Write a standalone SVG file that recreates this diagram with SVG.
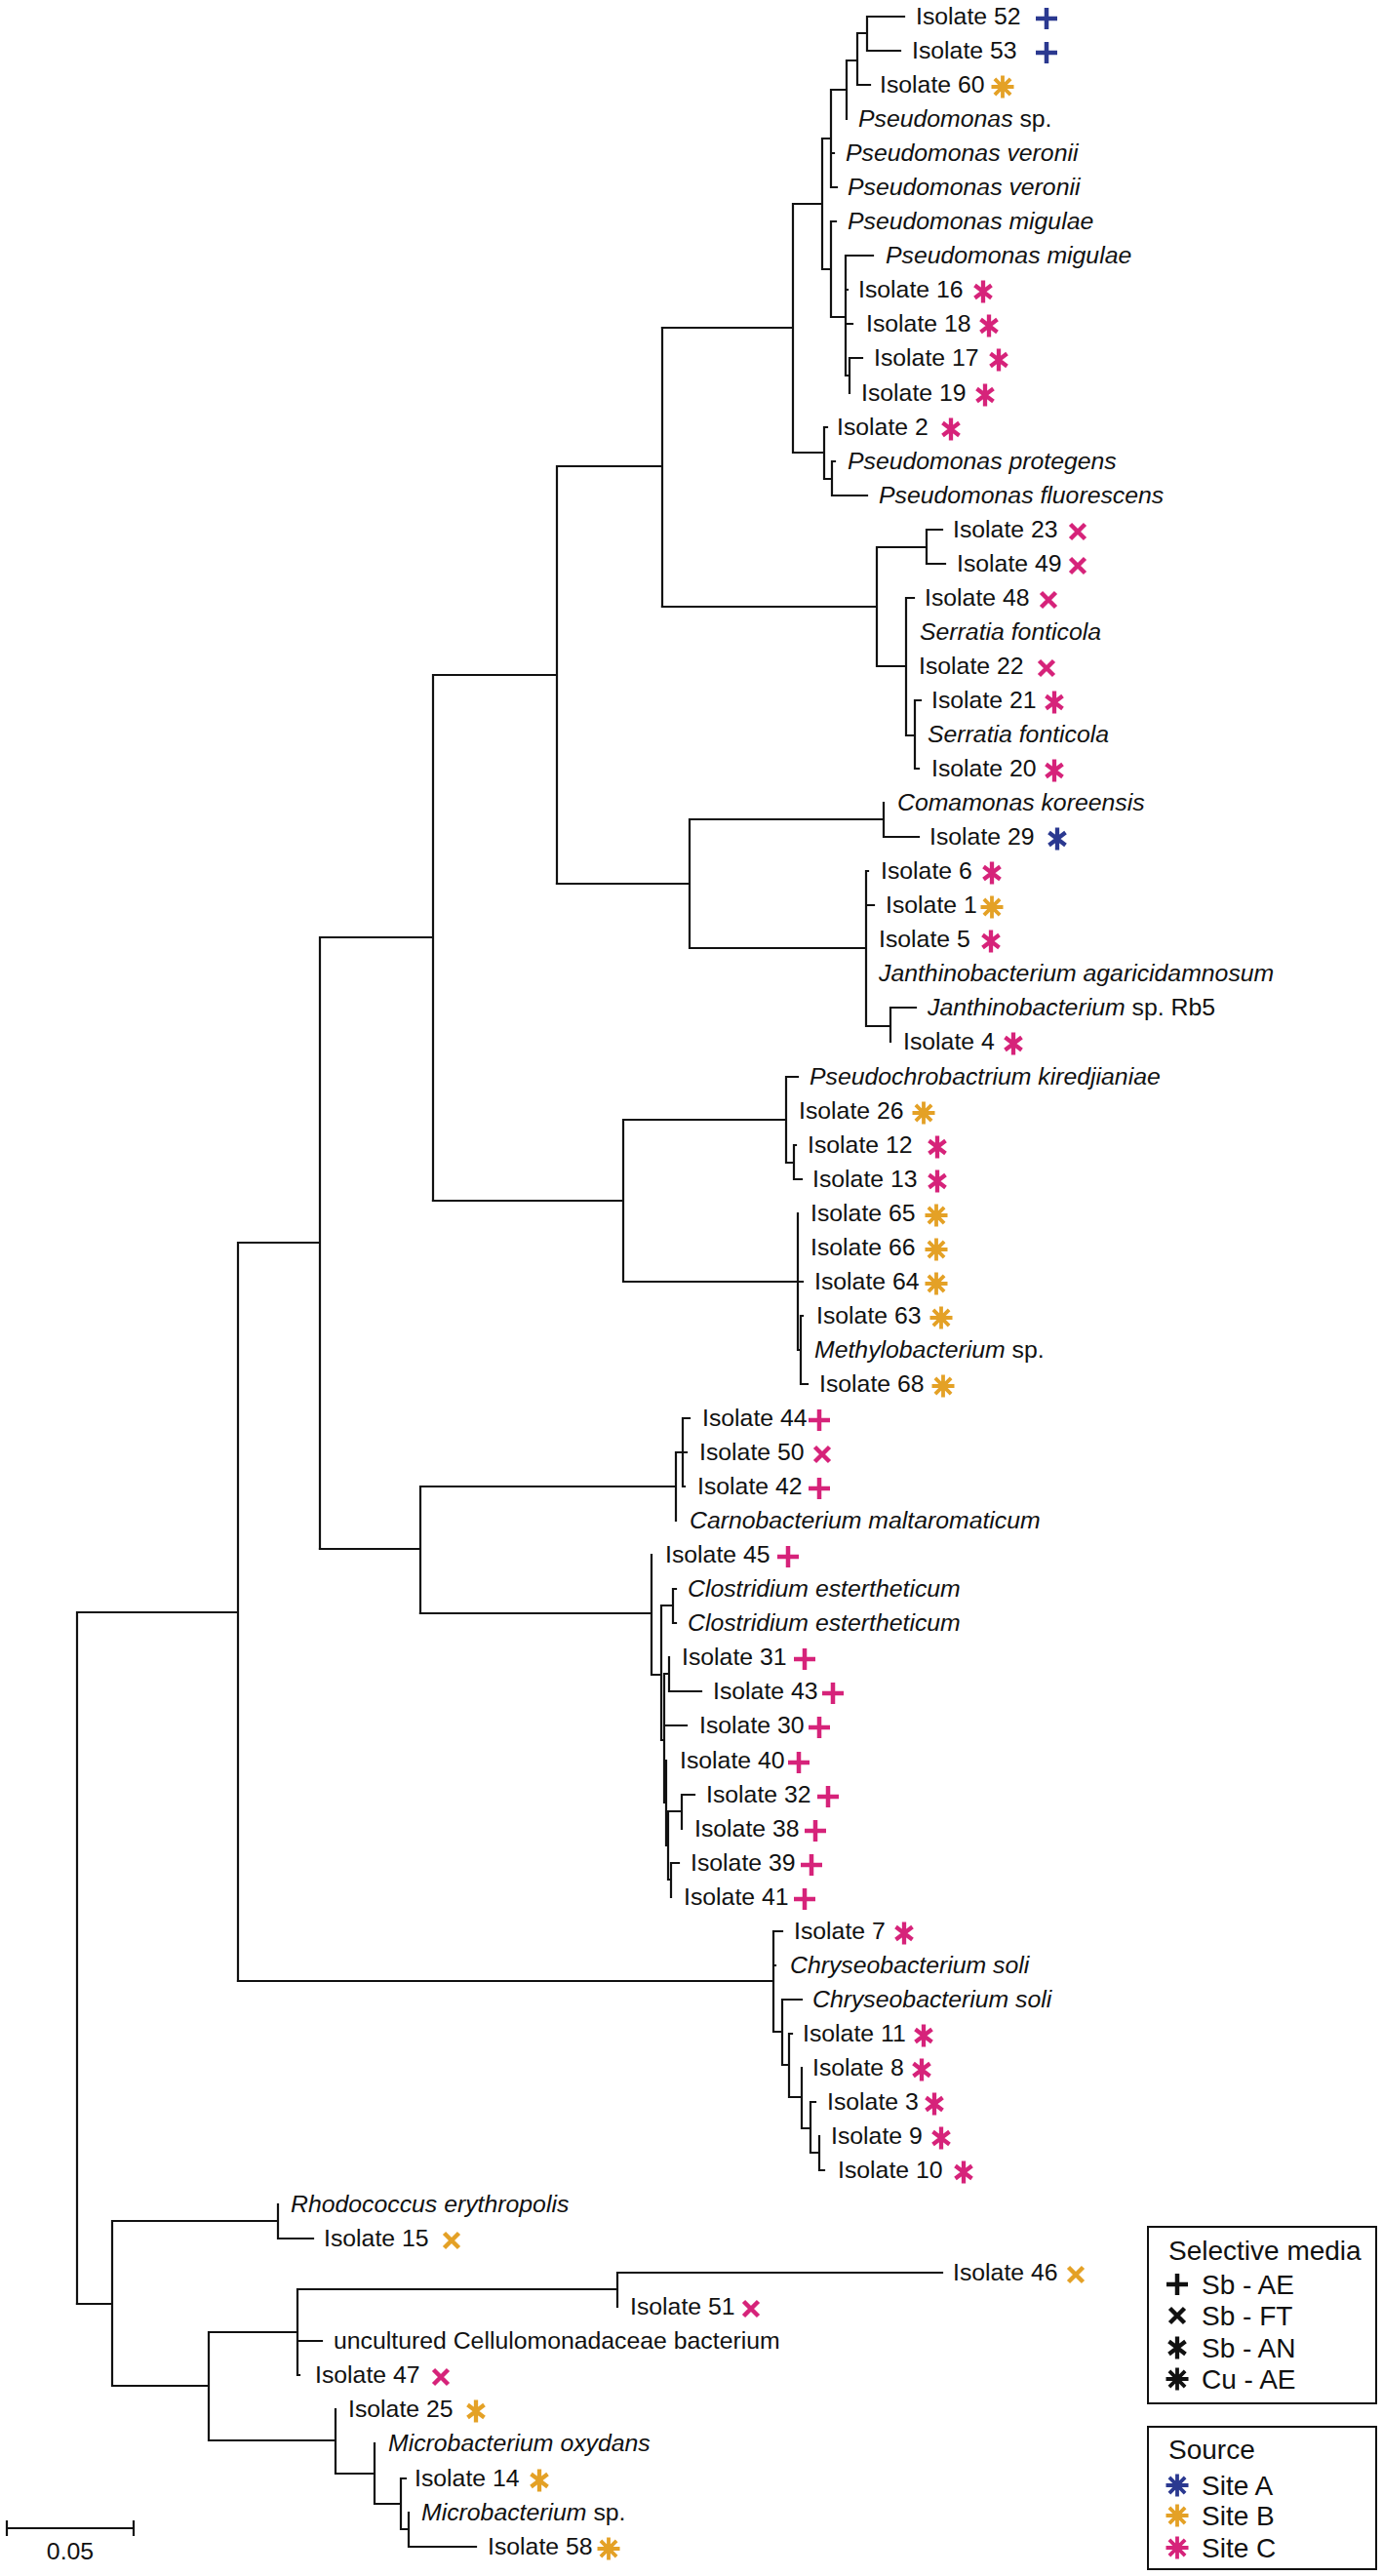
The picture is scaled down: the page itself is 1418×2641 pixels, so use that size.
<svg xmlns="http://www.w3.org/2000/svg" xmlns:xlink="http://www.w3.org/1999/xlink" width="1418" height="2641" viewBox="0 0 1418 2641">
<style>
text{font-family:"Liberation Sans",Arial,sans-serif;font-size:24.8px;fill:#111}
.i{font-style:italic}
.lg{font-size:28px}
.br{fill:none;stroke:#111;stroke-width:2.2;stroke-linecap:square}
.A{color:#2b3990}.B{color:#e4a126}.C{color:#d6237a}.K{color:#111}
</style>
<defs>
<g id="ae"><path d="M-11,0H11M0,-11V11" stroke="currentColor" stroke-width="4.5" fill="none"/></g>
<g id="ft"><path d="M-7.5,-7.5L7.5,7.5M7.5,-7.5L-7.5,7.5" stroke="currentColor" stroke-width="4.5" fill="none"/></g>
<g id="an"><path d="M0,-11.5V11.5M-8.5,-6.5L8.5,6.5M8.5,-6.5L-8.5,6.5" stroke="currentColor" stroke-width="4.3" fill="none"/></g>
<g id="cu"><path d="M0,-11.5V11.5M-11.5,0H11.5M-8.1,-8.1L8.1,8.1M8.1,-8.1L-8.1,8.1" stroke="currentColor" stroke-width="3.8" fill="none"/></g>
</defs>
<rect width="1418" height="2641" fill="#fff"/>
<g id="branches" class="br">
<path d="M79,1653V2362M79,1653H244M244,1274V2031M244,1274H328M328,961V1588M328,961H444M444,692V1231M444,692H571M571,478V906M571,478H679M679,336V622"/>
<path d="M679,336H813M813,209V464M813,209H843M843,142V276M843,142H852M852,92V192M852,92H868M868,62V122M868,62H879M879,34V87M879,34H889M889,17V52M889,17H927M889,52H923M879,87H892M852,157H855M852,192H858M843,276H852M852,227V325M852,227H857M852,325H867M867,262V385M867,262H895M867,297H869M867,332H874M867,385H871M871,367V403M871,367H884M813,464H845M845,438V491M845,438H848M845,491H853M853,473V508M853,473H856M853,508H889"/>
<path d="M679,622H899M899,561V683M899,561H950M950,543V578M950,543H966M950,578H969M899,683H929M929,613V754M929,613H937M929,754H938M938,718V788M938,718H944M938,788H942"/>
<path d="M571,906H707M707,840V972M707,840H906M906,823V858M906,858H942M707,972H888M888,893V1052M888,893H890M888,928H896M888,1052H913M913,1033V1068M913,1033H939"/>
<path d="M444,1231H639M639,1148V1314M639,1148H806M806,1104V1192M806,1104H818M806,1192H814M814,1174V1209M814,1174H816M814,1209H822M639,1314H818M818,1244V1384M818,1314H823M818,1384H821M821,1349V1419M821,1349H823M821,1419H828"/>
<path d="M328,1588H431M431,1524V1654M431,1524H693M693,1489V1559M693,1489H700M700,1454V1524M700,1454H707M700,1489H704M700,1524H702"/>
<path d="M431,1654H668M668,1594V1717M668,1717H678M678,1646V1784M678,1646H690M690,1629V1664M690,1629H693M690,1664H693M678,1784H681M681,1716V1848M681,1716H686M686,1699V1734M686,1734H719M681,1769H704M681,1848H683M683,1805V1892M683,1892H685M685,1857V1927M685,1857H699M699,1840V1875M699,1840H712M685,1927H688M688,1910V1945M688,1910H696"/>
<path d="M244,2031H793M793,1980V2083M793,1980H802M793,2015H795M793,2083H802M802,2050V2117M802,2050H822M802,2117H809M809,2085V2150M809,2085H812M809,2150H822M822,2120V2182M822,2182H831M831,2155V2207M831,2155H836M831,2207H840M840,2190V2225M840,2225H845"/>
<path d="M79,2362H115M115,2277V2446M115,2277H285M285,2260V2295M285,2295H321M115,2446H214M214,2391V2502M214,2391H305M305,2347V2435M305,2347H633M633,2330V2365M633,2330H966M305,2400H330M305,2435H307M214,2502H344M344,2470V2536M344,2536H384M384,2505V2567M384,2567H411M411,2541V2593M411,2541H416M411,2593H419M419,2576V2611M419,2611H488"/>
</g>
<g id="scale-bar">
<path class="br" d="M7,2592H137M7,2585V2599M137,2585V2599"/>
<text x="72" y="2624" text-anchor="middle">0.05</text>
</g>
<g id="leaves">
<g id="n52"><text x="939" y="25">Isolate 52</text><use href="#ae" x="1073" y="19" class="A"/></g>
<g id="n53"><text x="935" y="60">Isolate 53</text><use href="#ae" x="1073" y="54" class="A"/></g>
<g id="n60"><text x="902" y="95">Isolate 60</text><use href="#cu" x="1028" y="89" class="B"/></g>
<g id="psp"><text x="880" y="130"><tspan class="i">Pseudomonas</tspan> sp.</text></g>
<g id="pver1"><text x="867" y="165" class="i">Pseudomonas veronii</text></g>
<g id="pver2"><text x="869" y="200" class="i">Pseudomonas veronii</text></g>
<g id="pmig1"><text x="869" y="235" class="i">Pseudomonas migulae</text></g>
<g id="pmig2"><text x="908" y="270" class="i">Pseudomonas migulae</text></g>
<g id="n16"><text x="880" y="305">Isolate 16</text><use href="#an" x="1008" y="299" class="C"/></g>
<g id="n18"><text x="888" y="340">Isolate 18</text><use href="#an" x="1014" y="334" class="C"/></g>
<g id="n17"><text x="896" y="375">Isolate 17</text><use href="#an" x="1024" y="369" class="C"/></g>
<g id="n19"><text x="883" y="411">Isolate 19</text><use href="#an" x="1010" y="405" class="C"/></g>
<g id="n2"><text x="858" y="446">Isolate 2</text><use href="#an" x="975" y="440" class="C"/></g>
<g id="pprot"><text x="869" y="481" class="i">Pseudomonas protegens</text></g>
<g id="pfluo"><text x="901" y="516" class="i">Pseudomonas fluorescens</text></g>
<g id="n23"><text x="977" y="551">Isolate 23</text><use href="#ft" x="1105" y="545" class="C"/></g>
<g id="n49"><text x="981" y="586">Isolate 49</text><use href="#ft" x="1105" y="580" class="C"/></g>
<g id="n48"><text x="948" y="621">Isolate 48</text><use href="#ft" x="1075" y="615" class="C"/></g>
<g id="sfon1"><text x="943" y="656" class="i">Serratia fonticola</text></g>
<g id="n22"><text x="942" y="691">Isolate 22</text><use href="#ft" x="1073" y="685" class="C"/></g>
<g id="n21"><text x="955" y="726">Isolate 21</text><use href="#an" x="1081" y="720" class="C"/></g>
<g id="sfon2"><text x="951" y="761" class="i">Serratia fonticola</text></g>
<g id="n20"><text x="955" y="796">Isolate 20</text><use href="#an" x="1081" y="790" class="C"/></g>
<g id="ckor"><text x="920" y="831" class="i">Comamonas koreensis</text></g>
<g id="n29"><text x="953" y="866">Isolate 29</text><use href="#an" x="1084" y="860" class="A"/></g>
<g id="n6"><text x="903" y="901">Isolate 6</text><use href="#an" x="1017" y="895" class="C"/></g>
<g id="n1"><text x="908" y="936">Isolate 1</text><use href="#cu" x="1017" y="930" class="B"/></g>
<g id="n5"><text x="901" y="971">Isolate 5</text><use href="#an" x="1016" y="965" class="C"/></g>
<g id="jaga"><text x="901" y="1006" class="i">Janthinobacterium agaricidamnosum</text></g>
<g id="jrb5"><text x="951" y="1041"><tspan class="i">Janthinobacterium</tspan> sp. Rb5</text></g>
<g id="n4"><text x="926" y="1076">Isolate 4</text><use href="#an" x="1039" y="1070" class="C"/></g>
<g id="pkir"><text x="830" y="1112" class="i">Pseudochrobactrium kiredjianiae</text></g>
<g id="n26"><text x="819" y="1147">Isolate 26</text><use href="#cu" x="947" y="1141" class="B"/></g>
<g id="n12"><text x="828" y="1182">Isolate 12</text><use href="#an" x="961" y="1176" class="C"/></g>
<g id="n13"><text x="833" y="1217">Isolate 13</text><use href="#an" x="961" y="1211" class="C"/></g>
<g id="n65"><text x="831" y="1252">Isolate 65</text><use href="#cu" x="960" y="1246" class="B"/></g>
<g id="n66"><text x="831" y="1287">Isolate 66</text><use href="#cu" x="960" y="1281" class="B"/></g>
<g id="n64"><text x="835" y="1322">Isolate 64</text><use href="#cu" x="960" y="1316" class="B"/></g>
<g id="n63"><text x="837" y="1357">Isolate 63</text><use href="#cu" x="965" y="1351" class="B"/></g>
<g id="meth"><text x="835" y="1392"><tspan class="i">Methylobacterium</tspan> sp.</text></g>
<g id="n68"><text x="840" y="1427">Isolate 68</text><use href="#cu" x="967" y="1421" class="B"/></g>
<g id="n44"><text x="720" y="1462">Isolate 44</text><use href="#ae" x="840" y="1456" class="C"/></g>
<g id="n50"><text x="717" y="1497">Isolate 50</text><use href="#ft" x="843" y="1491" class="C"/></g>
<g id="n42"><text x="715" y="1532">Isolate 42</text><use href="#ae" x="840" y="1526" class="C"/></g>
<g id="cmal"><text x="707" y="1567" class="i">Carnobacterium maltaromaticum</text></g>
<g id="n45"><text x="682" y="1602">Isolate 45</text><use href="#ae" x="808" y="1596" class="C"/></g>
<g id="cest1"><text x="705" y="1637" class="i">Clostridium estertheticum</text></g>
<g id="cest2"><text x="705" y="1672" class="i">Clostridium estertheticum</text></g>
<g id="n31"><text x="699" y="1707">Isolate 31</text><use href="#ae" x="825" y="1701" class="C"/></g>
<g id="n43"><text x="731" y="1742">Isolate 43</text><use href="#ae" x="854" y="1736" class="C"/></g>
<g id="n30"><text x="717" y="1777">Isolate 30</text><use href="#ae" x="840" y="1771" class="C"/></g>
<g id="n40"><text x="697" y="1813">Isolate 40</text><use href="#ae" x="819" y="1807" class="C"/></g>
<g id="n32"><text x="724" y="1848">Isolate 32</text><use href="#ae" x="849" y="1842" class="C"/></g>
<g id="n38"><text x="712" y="1883">Isolate 38</text><use href="#ae" x="836" y="1877" class="C"/></g>
<g id="n39"><text x="708" y="1918">Isolate 39</text><use href="#ae" x="832" y="1912" class="C"/></g>
<g id="n41"><text x="701" y="1953">Isolate 41</text><use href="#ae" x="825" y="1947" class="C"/></g>
<g id="n7"><text x="814" y="1988">Isolate 7</text><use href="#an" x="927" y="1982" class="C"/></g>
<g id="csol1"><text x="810" y="2023" class="i">Chryseobacterium soli</text></g>
<g id="csol2"><text x="833" y="2058" class="i">Chryseobacterium soli</text></g>
<g id="n11"><text x="823" y="2093">Isolate 11</text><use href="#an" x="947" y="2087" class="C"/></g>
<g id="n8"><text x="833" y="2128">Isolate 8</text><use href="#an" x="945" y="2122" class="C"/></g>
<g id="n3"><text x="848" y="2163">Isolate 3</text><use href="#an" x="958" y="2157" class="C"/></g>
<g id="n9"><text x="852" y="2198">Isolate 9</text><use href="#an" x="965" y="2192" class="C"/></g>
<g id="n10"><text x="859" y="2233">Isolate 10</text><use href="#an" x="988" y="2227" class="C"/></g>
<g id="rery"><text x="298" y="2268" class="i">Rhodococcus erythropolis</text></g>
<g id="n15"><text x="332" y="2303">Isolate 15</text><use href="#ft" x="463" y="2297" class="B"/></g>
<g id="n46"><text x="977" y="2338">Isolate 46</text><use href="#ft" x="1103" y="2332" class="B"/></g>
<g id="n51"><text x="646" y="2373">Isolate 51</text><use href="#ft" x="770" y="2367" class="C"/></g>
<g id="ucel"><text x="342" y="2408">uncultured Cellulomonadaceae bacterium</text></g>
<g id="n47"><text x="323" y="2443">Isolate 47</text><use href="#ft" x="452" y="2437" class="C"/></g>
<g id="n25"><text x="357" y="2478">Isolate 25</text><use href="#an" x="488" y="2472" class="B"/></g>
<g id="moxy"><text x="398" y="2513" class="i">Microbacterium oxydans</text></g>
<g id="n14"><text x="425" y="2549">Isolate 14</text><use href="#an" x="553" y="2543" class="B"/></g>
<g id="msp"><text x="432" y="2584"><tspan class="i">Microbacterium</tspan> sp.</text></g>
<g id="n58"><text x="500" y="2619">Isolate 58</text><use href="#cu" x="624" y="2613" class="B"/></g>
</g>
<g id="legend-media">
<rect x="1177" y="2283" width="234" height="181" fill="none" stroke="#111" stroke-width="2"/>
<text x="1198" y="2317" class="lg">Selective media</text>
<use href="#ae" x="1207" y="2342" class="K"/><text x="1232" y="2352" class="lg">Sb - AE</text>
<use href="#ft" x="1207" y="2374" class="K"/><text x="1232" y="2384" class="lg">Sb - FT</text>
<use href="#an" x="1207" y="2407" class="K"/><text x="1232" y="2417" class="lg">Sb - AN</text>
<use href="#cu" x="1207" y="2439" class="K"/><text x="1232" y="2449" class="lg">Cu - AE</text>
</g>
<g id="legend-source">
<rect x="1177" y="2488" width="234" height="146" fill="none" stroke="#111" stroke-width="2"/>
<text x="1198" y="2521" class="lg">Source</text>
<use href="#cu" x="1207" y="2548" class="A"/><text x="1232" y="2558" class="lg">Site A</text>
<use href="#cu" x="1207" y="2579" class="B"/><text x="1232" y="2589" class="lg">Site B</text>
<use href="#cu" x="1207" y="2612" class="C"/><text x="1232" y="2622" class="lg">Site C</text>
</g>
</svg>
